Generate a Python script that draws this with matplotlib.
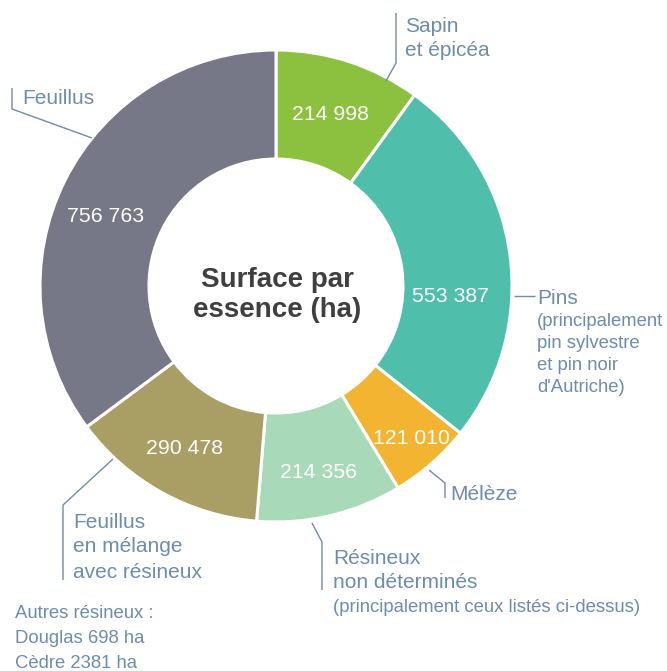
import matplotlib
matplotlib.use("Agg")
import matplotlib.pyplot as plt
import numpy as np

plt.rcParams['font.family'] = ['Liberation Sans', 'DejaVu Sans']

# Data (clockwise from 12 o'clock)
categories = ["Sapin et épicéa", "Pins", "Mélèze", "Résineux non déterminés",
              "Feuillus en mélange avec résineux", "Feuillus"]
values = [214998, 553387, 121010, 214356, 290478, 756763]
value_labels = ["214 998", "553 387", "121 010", "214 356", "290 478", "756 763"]
colors = ["#8CC13F", "#4FBEAB", "#F2B431", "#A8D9B8", "#A99F65", "#767787"]

W, H = 667, 671
fig = plt.figure(figsize=(W / 100, H / 100), dpi=100)
ax = fig.add_axes([0, 0, 1, 1])

def Y(y):
    return H - y

cx, cy = 276, 286
R, Ri = 236, 127
ax.pie(values, colors=colors, startangle=90, counterclock=False,
       center=(cx, Y(cy)), radius=R, frame=True,
       wedgeprops=dict(width=R - Ri, edgecolor='white', linewidth=2.2))
ax.set_xlim(0, W)
ax.set_ylim(0, H)
ax.set_aspect('equal')
ax.axis('off')

# value label placement (layout, pixel coords)
label_pos = [(330, 115), (450, 296), (411, 438), (319, 472), (185, 448), (106, 216)]
for lab, (x, y) in zip(value_labels, label_pos):
    ax.text(x, Y(y), lab, color='white', fontsize=15.3, ha='center', va='center')

ax.text(cx + 1, Y(cy + 9), "Surface par\nessence (ha)", fontsize=20, fontweight='bold',
        color='#3F3F3F', ha='center', va='center', linespacing=1.2)

lc = '#6D8CAE'
lw = 1.0

def leader(pts):
    xs = [p[0] for p in pts]
    ys = [Y(p[1]) for p in pts]
    ax.plot(xs, ys, color=lc, lw=lw, solid_capstyle='butt')

def txt(x, y, s, size=15):
    ax.text(x, Y(y + 2), s, color=lc, fontsize=size, ha='left', va='center')

# Sapin
leader([(386, 81), (396, 63), (396, 13)])
txt(405, 24, "Sapin")
txt(405, 49, "et épicéa")

# Pins
leader([(514, 296), (535, 296)])
txt(537, 297, "Pins")
for i, s in enumerate(["(principalement", "pin sylvestre", "et pin noir", "d'Autriche)"]):
    txt(537, 320 + 22 * i, s, size=13.3)

# Mélèze
leader([(429, 470), (445, 483), (445, 498)])
txt(450, 492, "Mélèze")

# Résineux non déterminés
leader([(312, 523), (322, 542), (322, 590)])
txt(333, 556, "Résineux")
txt(333, 580, "non déterminés")
txt(333, 605, "(principalement ceux listés ci-dessus)", size=13.3)

# Feuillus en mélange
leader([(113, 459), (63, 505), (63, 580)])
txt(73, 520, "Feuillus")
txt(73, 545, "en mélange")
txt(73, 570, "avec résineux")

# Feuillus
leader([(92, 138), (12, 109), (12, 88)])
txt(22, 97, "Feuillus")

# Autres résineux
for i, s in enumerate(["Autres résineux :", "Douglas 698 ha", "Cèdre 2381 ha"]):
    txt(15, 612 + 24.5 * i, s, size=13.3)

fig.savefig("out.png", dpi=100, facecolor='white')
